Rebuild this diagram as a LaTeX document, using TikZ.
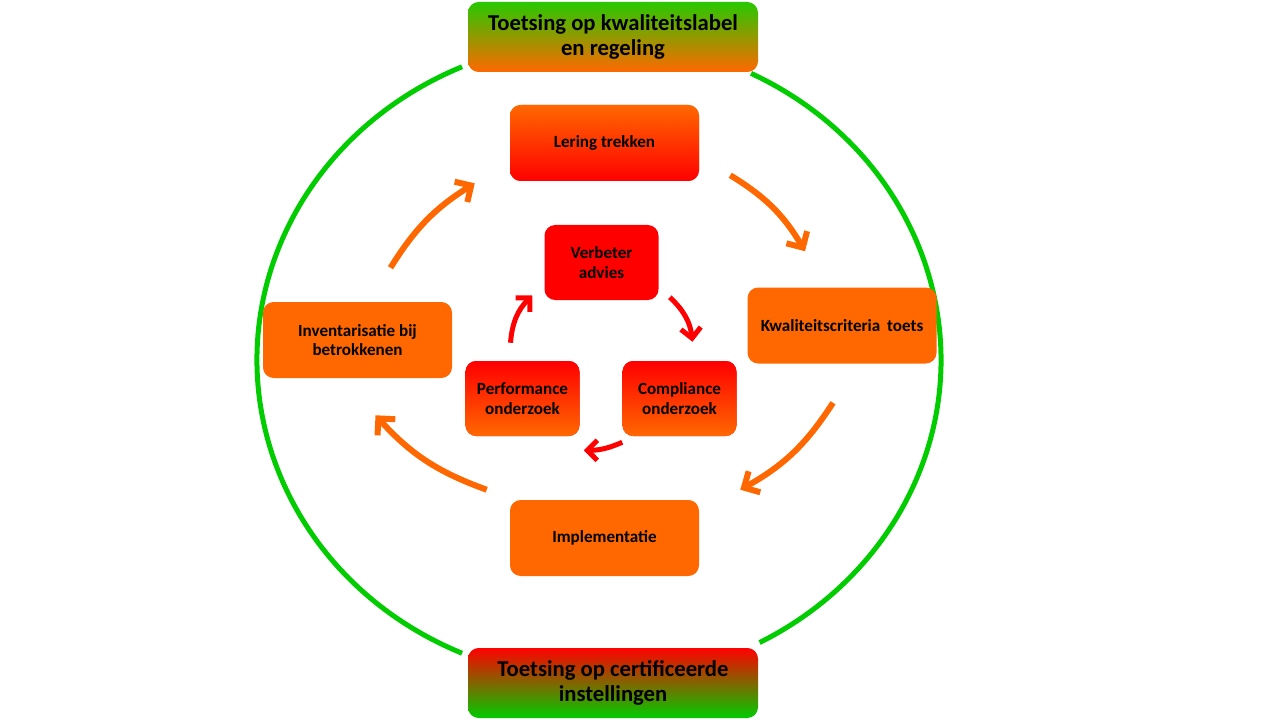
\documentclass[tikz,border=0pt]{standalone}
\usepackage{fontspec}
\setmainfont{Carlito}
\usetikzlibrary{arrows.meta}
\definecolor{ringgreen}{RGB}{0,204,0}
\definecolor{labelgreen}{RGB}{40,200,0}
\definecolor{pporange}{RGB}{255,104,0}
\definecolor{ppred}{RGB}{255,0,0}
\tikzstyle{toetsbox}=[rounded corners=8pt,minimum width=217.5pt,minimum height=52.5pt,align=center,inner sep=1pt,font=\fontsize{17}{19}\selectfont\bfseries]
\tikzstyle{phase}=[rounded corners=8pt,minimum width=141.75pt,minimum height=57pt,align=center,fill=pporange,font=\fontsize{12.8}{14.5}\selectfont\bfseries]
\tikzstyle{subphase}=[rounded corners=8pt,minimum width=85.5pt,minimum height=56.25pt,align=center,fill=ppred,font=\fontsize{12.8}{14.5}\selectfont\bfseries]
\tikzstyle{cyclearrow}=[-{Straight Barb[length=9pt,width=18pt]},line width=4.5pt,pporange]
\tikzstyle{subarrow}=[-{Straight Barb[length=7.5pt,width=15pt]},line width=3.75pt,ppred]

\begin{document}
\begin{tikzpicture}[x=0.75pt,y=-0.75pt]
  \useasboundingbox (0,0) rectangle (1280,720);
  % green ring, two arcs
  \draw[ringgreen,line width=3.75pt] ([shift={(113.6:342 and 320)}]599,360) arc[start angle=113.6,end angle=246.4,x radius=342,y radius=320];
  \draw[ringgreen,line width=3.75pt] ([shift={(-63.6:342 and 320)}]599,360) arc[start angle=-63.6,end angle=62,x radius=342,y radius=320];

  % toetsing
  \node[toetsbox,top color=labelgreen,middle color=labelgreen!55!pporange,bottom color=pporange] (kwlabel) at (613,37) {Toetsing op kwaliteitslabel\\en regeling};
  \node[toetsbox,top color=ppred,bottom color=ringgreen] (certif) at (613,683) {Toetsing op certificeerde\\instellingen};

  % outer cycle
  \node[phase,top color=pporange,bottom color=ppred] (lering) at (604.5,143) {Lering trekken};
  \node[phase] (kwcrit) at (842,325.5) {Kwaliteitscriteria\hspace{0.4em}toets};
  \node[phase] (implem) at (604.5,538) {Implementatie};
  \node[phase] (invent) at (357.5,340) {Inventarisatie bij\\betrokkenen};

  % inner cycle
  \node[subphase] (verbeter) at (601.5,262.5) {Verbeter\\advies};
  \node[subphase,top color=ppred,middle color=ppred,bottom color=pporange] (complian) at (679.5,398.5) {Compliance\\onderzoek};
  \node[subphase,top color=ppred,middle color=ppred,bottom color=pporange] (perform) at (522.5,398.5) {Performance\\onderzoek};

  \draw[cyclearrow] ([shift={(33,-34)}]invent.north) to[bend left=13] ([shift={(-35,2)}]lering.south west);
  \draw[cyclearrow] ([shift={(31,-6)}]lering.south east) to[bend left=14] ([shift={(-37,-36)}]kwcrit.north);
  \draw[cyclearrow] ([shift={(-9,39)}]kwcrit.south) to[bend left=14] ([shift={(41,-10)}]implem.north east);
  \draw[cyclearrow] ([shift={(-23,-10)}]implem.north west) to[bend left=14] ([shift={(18,37)}]invent.south);

  \draw[subarrow] ([shift={(11,-3)}]verbeter.south east) to[bend left=20] ([shift={(13,-19)}]complian.north);
  \draw[subarrow] ([shift={(0,6)}]complian.south west) to[bend left=12] ([shift={(4,14)}]perform.south east);
  \draw[subarrow] ([shift={(-12,-18)}]perform.north) to[bend left=20] ([shift={(-12,-5)}]verbeter.south west);
\end{tikzpicture}
\end{document}
